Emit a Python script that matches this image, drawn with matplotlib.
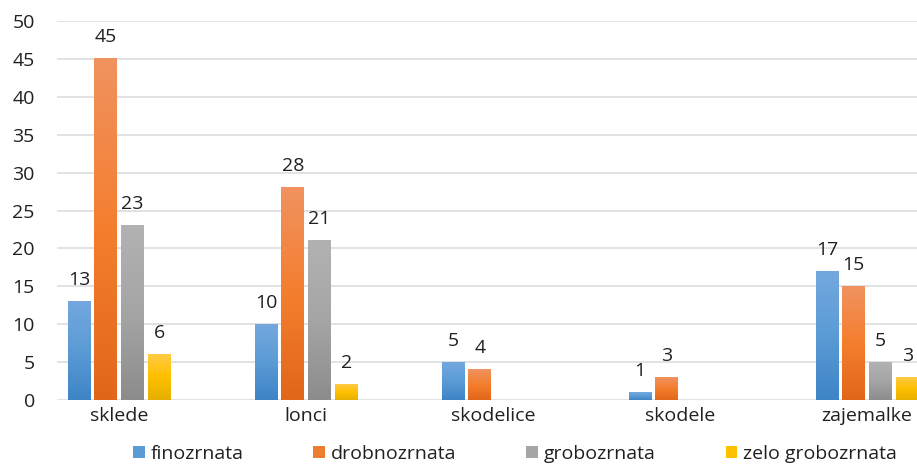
import numpy as np
import matplotlib
matplotlib.use("Agg")
import matplotlib.pyplot as plt
from matplotlib.colors import LinearSegmentedColormap
from matplotlib.patches import Patch

categories = ["sklede", "lonci", "skodelice", "skodele", "zajemalke"]
series_names = ["finozrnata", "drobnozrnata", "grobozrnata", "zelo grobozrnata"]
finozrnata = [13, 10, 5, 1, 17]
drobnozrnata = [45, 28, 4, 3, 15]
grobozrnata = [23, 21, 0, 0, 5]
zelo_grobozrnata = [6, 2, 0, 0, 3]
y_ticks = [0, 5, 10, 15, 20, 25, 30, 35, 40, 45, 50]

series = [finozrnata, drobnozrnata, grobozrnata, zelo_grobozrnata]
# bottom, middle, top of each Excel-style gradient
grads = [
    ("#3D84C6", "#5B9BD5", "#73A8DE"),
    ("#E2661A", "#F47E2E", "#F09260"),
    ("#8C8C8C", "#A5A5A5", "#B2B2B2"),
    ("#E6AF00", "#FFC000", "#FFCB45"),
]
legend_colors = ["#5B9BD5", "#ED7D31", "#A5A5A5", "#FFC000"]

plt.rcParams['font.family'] = ['Open Sans', 'DejaVu Sans']

fig = plt.figure(figsize=(9.17, 4.66), dpi=100)
ax = fig.add_axes([57 / 917, 66 / 466, 1 - 57 / 917, (400 - 21) / 466])

x = np.arange(len(categories))
step = 0.143
width = 0.12
grad = np.linspace(0, 1, 256).reshape(-1, 1)

for i, vals in enumerate(series):
    cmap = LinearSegmentedColormap.from_list("g%d" % i, list(grads[i]))
    offset = (i - 1.5) * step
    for xi, v in zip(x, vals):
        if v == 0:
            continue
        x0 = xi + offset - width / 2
        ax.imshow(grad, cmap=cmap, origin="lower", aspect="auto",
                  extent=[x0, x0 + width, 0, v], zorder=3)
        ax.annotate(str(v), (xi + offset, v), xytext=(0, 9),
                    textcoords="offset points", ha="center", va="bottom",
                    fontsize=14, color="#202020", annotation_clip=False)

ax.set_xlim(-0.332, 4.267)
ax.set_ylim(0, 50)
ax.set_yticks(y_ticks)
ax.set_xticks(x)
ax.set_xticklabels(categories)
ax.tick_params(axis="both", length=0, labelsize=14, colors="#202020")
ax.tick_params(axis="y", pad=16)
ax.tick_params(axis="x", pad=5)
ax.grid(axis="y", color="#DADDE2", linewidth=1.2, zorder=0)
ax.set_axisbelow(True)
for s in ax.spines.values():
    s.set_visible(False)

handles = [Patch(facecolor=c, edgecolor="none") for c in legend_colors]
fig.legend(handles, series_names, loc="center", bbox_to_anchor=(515 / 917, 12 / 466),
           ncol=4, frameon=False, fontsize=14, handlelength=0.6, handleheight=0.6,
           handletextpad=0.3, columnspacing=3.6, labelcolor="#202020")

fig.savefig("out.png", dpi=100)
